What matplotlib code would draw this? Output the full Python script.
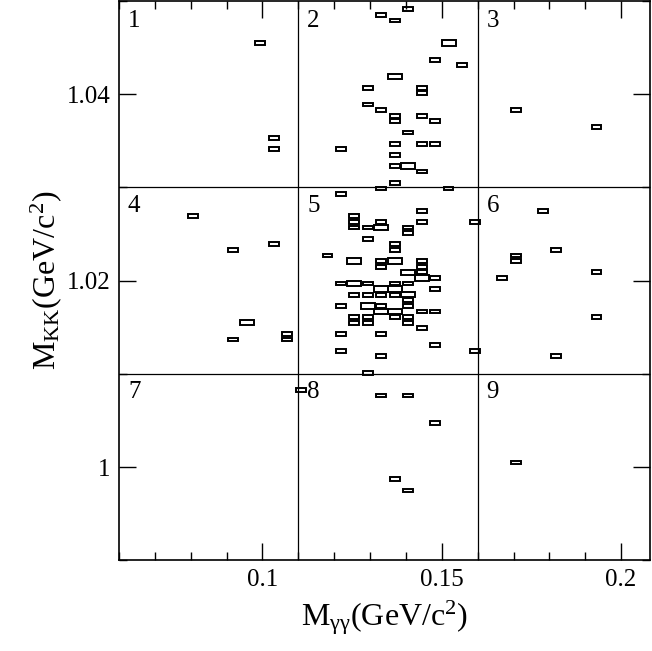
import matplotlib
matplotlib.use("Agg")
import matplotlib.pyplot as plt
from matplotlib.patches import Rectangle
from matplotlib.ticker import MultipleLocator, FixedLocator
import numpy as np

plt.rcParams['font.family'] = ['Liberation Serif', 'DejaVu Serif']
plt.rcParams['mathtext.fontset'] = 'custom'
plt.rcParams['mathtext.rm'] = 'Liberation Serif'
plt.rcParams['mathtext.it'] = 'Liberation Serif'

# histogram binning: 40 bins in M_gg over [0.06,0.21], 100 bins in M_KK over [0.99,1.05]
x_edges = np.linspace(0.06, 0.21, 41)
y_edges = np.linspace(0.99, 1.05, 101)

# occupied cells: (x bin index, y bin index, count)
ix = [21,19,20,10,24,23,25,20,18,22,22,18,19,20,20,22,23,21,11,11,20,22,23,16,20,20,21,22,20,19,24,16,29,35,
      22,31,17,5,17,19,22,26,17,18,19,21,21,18,11,20,8,20,32,15,29,17,19,20,22,29,19,22,21,22,35,22,23,28,
      16,17,18,20,21,19,20,23,17,18,19,20,21,21,16,18,19,21,19,20,22,23,17,18,20,21,35,9,17,18,21,22,
      16,19,8,12,12,23,16,26,19,32,18,13,19,21,23,29,20,21]
iy = [98,97,96,92,92,89,88,86,84,84,83,81,80,79,78,79,78,76,75,73,74,74,74,73,72,70,70,69,67,66,66,65,80,77,
      62,62,61,61,60,60,60,60,59,59,59,59,58,57,56,56,55,55,55,54,54,53,53,53,53,53,52,52,51,51,51,50,50,50,
      49,49,49,49,49,48,48,48,47,47,47,47,47,46,45,45,45,45,44,44,44,44,43,43,43,43,43,42,42,42,42,41,
      40,40,39,40,39,38,37,37,36,36,33,30,29,29,24,17,14,12]
cnt = [1,1,1,1,2,1,1,2,1,1,1,1,1,1,1,1,1,1,1,1,1,1,1,1,1,1,2,1,1,1,1,1,1,1,
       1,1,1,1,1,1,1,1,1,1,2,1,1,1,1,1,1,1,1,1,1,2,1,2,1,1,1,1,2,1,1,2,1,1,
       1,2,1,1,1,2,2,1,1,1,1,1,2,1,1,2,1,1,2,2,1,1,1,1,1,1,1,2,1,1,1,1,
       1,1,1,1,1,1,1,1,1,1,1,1,1,1,1,1,1,1]

fig = plt.figure(figsize=(6.52, 6.51), dpi=100)
ax = fig.add_axes([119/652, 1-560.45/651, (650-119)/652, (560.45-0.95)/651])
ax.set_xlim(0.06, 0.06 + 533/3600)
ax.set_ylim(0.99, 1.05)

cmax = max(cnt)
bw = x_edges[1]-x_edges[0]
bh = y_edges[1]-y_edges[0]
for i, j, c in zip(ix, iy, cnt):
    xc = (x_edges[i]+x_edges[i+1])/2
    yc = (y_edges[j]+y_edges[j+1])/2
    s = np.sqrt(c/cmax)
    w, h = bw*s*1.04, bh*s*0.95
    ax.add_patch(Rectangle((xc-w/2, yc-h/2), w, h, fill=False, edgecolor='black', lw=1.4))

for xv in [0.11, 0.16]:
    ax.axvline(xv, color='black', lw=0.9)
for yv in [1.01, 1.03]:
    ax.axhline(yv, color='black', lw=0.9)

labels = {1:(0.0625,1.049),2:(0.1125,1.049),3:(0.1625,1.049),
          4:(0.0625,1.0292),5:(0.1125,1.0292),6:(0.1625,1.0292),
          7:(0.0625,1.0092),8:(0.1125,1.0092),9:(0.1625,1.0092)}
for k,(xx,yy) in labels.items():
    ax.text(xx, yy, str(k), fontsize=18, va='top', ha='left')

ax.xaxis.set_major_locator(FixedLocator([0.1, 0.15, 0.2]))
ax.xaxis.set_minor_locator(MultipleLocator(0.01))
ax.yaxis.set_major_locator(FixedLocator([1.0, 1.02, 1.04]))
ax.yaxis.set_minor_locator(MultipleLocator(0.01))
ax.set_xticklabels(['0.1', '0.15', '0.2'])
ax.set_yticklabels(['1', '1.02', '1.04'])
ax.tick_params(which='both', direction='in', top=True, right=True, labelsize=18, width=1)
ax.tick_params(which='major', length=12, pad=6)
ax.tick_params(which='minor', length=6)
for sp in ax.spines.values():
    sp.set_linewidth(1.2)

ax.set_xlabel(r'M$_{\gamma\gamma}$(GeV/c$^2$)', fontsize=23, labelpad=5)
ax.set_ylabel(r'M$_{\mathrm{KK}}$(GeV/c$^2$)', fontsize=23, labelpad=2)

fig.savefig('out.png', dpi=100)
